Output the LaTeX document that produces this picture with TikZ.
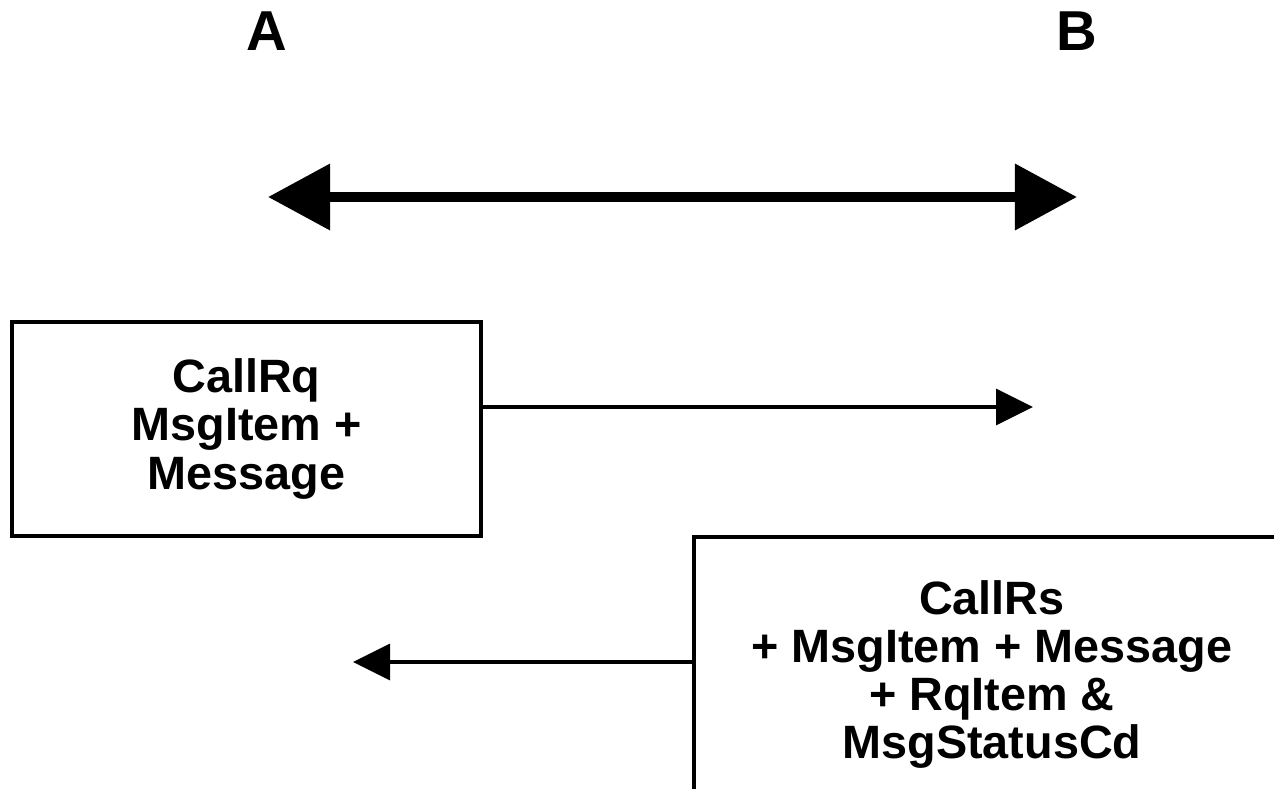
\documentclass[tikz,border=0pt]{standalone}
\usepackage{fontspec}
\setmainfont{Liberation Sans}
\usepackage{tikz}
\usetikzlibrary{arrows.meta}

\tikzset{
  party/.style={font=\fontsize{16}{18}\selectfont\bfseries},
  msgbox/.style={draw, line width=1pt, align=center, inner sep=0pt,
    font=\fontsize{13.3}{13.7}\selectfont\bfseries},
  msgarrow/.style={line width=1pt, -{Triangle[length=0.37cm,width=0.36cm]}},
  linkarrow/.style={line width=2.9pt,
    {Triangle[length=0.62cm,width=0.64cm]}-{Triangle[length=0.62cm,width=0.64cm]}}
}

\begin{document}
\begin{tikzpicture}[x=0.01cm,y=-0.01cm]
    \useasboundingbox (0,0) rectangle (1274,788);
    \clip (0,0) rectangle (1274,788);

    \coordinate (L1) at (268,197);
    \coordinate (L2) at (1077,197);
    \coordinate (RqEnd) at (1033,407);
    \coordinate (RsEnd) at (353,662);

%parties
    \node[party] (A) at (267,31) {A};
    \node[party] (B) at (1077,31) {B};

    \draw[linkarrow] (L1) -- (L2);

%messages
    \node[msgbox, minimum width=4.69cm, minimum height=2.14cm] (Rq) at (246.5,429)
        {CallRq\\ MsgItem +\\ Message};
    \node[msgbox, anchor=north west, minimum width=5.96cm, minimum height=2.75cm] (Rs) at (692,535)
        {CallRs\\ + MsgItem + Message\\ + RqItem \&\\ MsgStatusCd};

    \draw[msgarrow] (Rq.east |- RqEnd) -- (RqEnd);
    \draw[msgarrow] (Rs.west |- RsEnd) -- (RsEnd);

\end{tikzpicture}
\end{document}
